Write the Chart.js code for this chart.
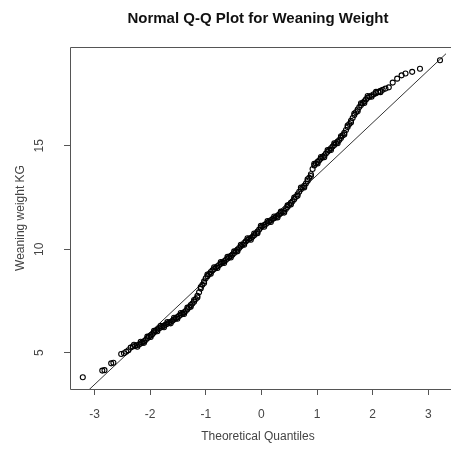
<!DOCTYPE html>
<html>
<head>
<meta charset="utf-8">
<script src="https://cdn.jsdelivr.net/npm/chart.js@4"></script>
<style>
  html, body { margin: 0; padding: 0; background: #fff; }
  #wrap { width: 451px; height: 451px; }
</style>
</head>
<body>
<div id="wrap"><canvas id="qq"></canvas></div>
<script>
// points (theoretical quantile, weaning weight kg)
const theoQuantiles = [
  -3.21, -2.86, -2.82, -2.70, -2.66, -2.52, -2.47, -2.43, -2.39, -2.35,
  -2.31, -2.27, -2.24, -2.20, -2.17, -2.14, -2.11, -2.08, -2.05, -2.02,
  -1.99, -1.96, -1.93, -1.90, -1.87, -1.84, -1.81, -1.78, -1.75, -1.72,
  -1.69, -1.66, -1.63, -1.60, -1.57, -1.54, -1.51, -1.48, -1.45, -1.42,
  -1.39, -1.36, -1.33, -1.30, -1.27, -1.24, -1.21, -1.18, -1.15, -1.12,
  -1.09, -1.06, -1.03, -1.00, -0.97, -0.94, -0.91, -0.88, -0.85, -0.82,
  -0.79, -0.76, -0.73, -0.70, -0.67, -0.64, -0.61, -0.58, -0.55, -0.52,
  -0.49, -0.46, -0.43, -0.40, -0.37, -0.34, -0.31, -0.28, -0.25, -0.22,
  -0.19, -0.16, -0.13, -0.10, -0.07, -0.04, -0.01, 0.02, 0.05, 0.08,
  0.11, 0.14, 0.17, 0.20, 0.23, 0.26, 0.29, 0.32, 0.35, 0.38,
  0.41, 0.44, 0.47, 0.50, 0.53, 0.56, 0.59, 0.62, 0.65, 0.68,
  0.71, 0.74, 0.77, 0.80, 0.83, 0.86, 0.89, 0.92, 0.95, 0.98,
  1.01, 1.04, 1.07, 1.10, 1.13, 1.16, 1.19, 1.22, 1.25, 1.28,
  1.31, 1.34, 1.37, 1.40, 1.43, 1.46, 1.49, 1.52, 1.55, 1.58,
  1.61, 1.64, 1.67, 1.70, 1.73, 1.76, 1.79, 1.82, 1.85, 1.88,
  1.91, 1.94, 1.98, 2.02, 2.06, 2.10, 2.14, 2.18, 2.23, 2.29,
  2.36, 2.44, 2.52, 2.59, 2.71, 2.85, 3.21
];
const weaningWeight = [
  3.82, 4.14, 4.16, 4.49, 4.52, 4.94, 4.98, 5.05, 5.12, 5.25,
  5.30, 5.33, 5.36, 5.40, 5.45, 5.50, 5.56, 5.62, 5.70, 5.78,
  5.84, 5.90, 5.98, 6.05, 6.12, 6.18, 6.22, 6.27, 6.31, 6.36,
  6.40, 6.45, 6.50, 6.55, 6.61, 6.66, 6.72, 6.78, 6.84, 6.89,
  6.95, 7.02, 7.10, 7.20, 7.30, 7.38, 7.47, 7.60, 7.75, 7.92,
  8.10, 8.28, 8.45, 8.60, 8.70, 8.80, 8.90, 8.98, 9.05, 9.12,
  9.18, 9.24, 9.30, 9.36, 9.42, 9.48, 9.55, 9.62, 9.68, 9.74,
  9.82, 9.90, 9.98, 10.06, 10.14, 10.22, 10.30, 10.38, 10.45, 10.50,
  10.54, 10.60, 10.68, 10.76, 10.85, 10.95, 11.05, 11.12, 11.17, 11.22,
  11.28, 11.34, 11.40, 11.46, 11.50, 11.56, 11.62, 11.68, 11.74, 11.80,
  11.85, 11.94, 12.04, 12.15, 12.24, 12.32, 12.42, 12.54, 12.66, 12.78,
  12.90, 12.98, 13.06, 13.18, 13.30, 13.45, 13.62, 13.88, 14.05, 14.14,
  14.22, 14.30, 14.38, 14.45, 14.53, 14.62, 14.71, 14.79, 14.88, 14.96,
  15.04, 15.12, 15.20, 15.28, 15.38, 15.50, 15.62, 15.76, 15.90, 16.05,
  16.20, 16.34, 16.48, 16.62, 16.75, 16.87, 16.97, 17.06, 17.15, 17.24,
  17.32, 17.37, 17.43, 17.49, 17.54, 17.60, 17.65, 17.70, 17.76, 17.82,
  18.05, 18.24, 18.40, 18.49, 18.57, 18.72, 19.13
];

// extra points read from the upper / lower edges of the dense band
const bandQuantiles = [
  -2.29, -2.23, -2.17, -2.11, -2.05, -1.99, -1.93, -1.87, -1.81, -1.75,
  -1.69, -1.63, -1.57, -1.51, -1.45, -1.39, -1.33, -1.27, -1.21, -1.15,
  -1.09, -1.03, -0.97, -0.91, -0.85, -0.79, -0.73, -0.67, -0.61, -0.55,
  -0.49, -0.43, -0.37, -0.31, -0.25, -0.19, -0.13, -0.07, -0.01, 0.05,
  0.11, 0.17, 0.23, 0.29, 0.35, 0.41, 0.47, 0.53, 0.59, 0.65,
  0.71, 0.77, 0.83, 0.89, 0.95, 1.01, 1.07, 1.13, 1.19, 1.25,
  1.31, 1.37, 1.43, 1.49, 1.55, 1.61, 1.67, 1.73, 1.79, 1.85,
  1.91, 1.98, 2.06, 2.14
];
const bandWeights = [
  5.39, 5.29, 5.53, 5.48, 5.78, 5.76, 6.06, 6.04, 6.30, 6.23,
  6.48, 6.42, 6.69, 6.64, 6.92, 6.87, 7.18, 7.22, 7.55, 7.67,
  8.18, 8.37, 8.78, 8.82, 9.13, 9.10, 9.38, 9.34, 9.63, 9.60,
  9.90, 9.90, 10.22, 10.22, 10.53, 10.46, 10.76, 10.77, 11.13, 11.09,
  11.36, 11.32, 11.58, 11.54, 11.82, 11.77, 12.12, 12.16, 12.50, 12.58,
  12.98, 12.98, 13.38, 13.54, 14.13, 14.14, 14.46, 14.45, 14.79, 14.80,
  15.12, 15.12, 15.46, 15.54, 15.98, 16.12, 16.56, 16.67, 17.05, 17.07,
  17.40, 17.37, 17.60, 17.59
];

// qq reference line, end points
const lineX = [-3.44, 3.32];
const lineY = [2.35, 19.45];

const xTicks = [-3, -2, -1, 0, 1, 2, 3];
const yTicks = [5, 10, 15];

const axisGrey = '#555';
const textGrey = '#444';
const font = 'Liberation Sans, Arial, sans-serif';

const points = theoQuantiles.map((x, i) => ({ x: x, y: weaningWeight[i] }))
  .concat(bandQuantiles.map((x, i) => ({ x: x, y: bandWeights[i] })));
const refLine = lineX.map((x, i) => ({ x: x, y: lineY[i] }));

// R style box (no right side, it is cut off) and rotated y tick labels
const rFrame = {
  id: 'rFrame',
  afterDraw(chart) {
    const ctx = chart.ctx;
    const a = chart.chartArea;
    ctx.save();
    ctx.strokeStyle = axisGrey;
    ctx.lineWidth = 1;
    ctx.beginPath();
    ctx.moveTo(chart.width, a.top + 0.5);
    ctx.lineTo(a.left + 0.5, a.top + 0.5);
    ctx.lineTo(a.left + 0.5, a.bottom + 0.5);
    ctx.lineTo(chart.width, a.bottom + 0.5);
    ctx.stroke();

    const ys = chart.scales.y;
    ctx.fillStyle = textGrey;
    ctx.font = '12px ' + font;
    ctx.textAlign = 'center';
    ctx.textBaseline = 'middle';
    yTicks.forEach(v => {
      const py = ys.getPixelForValue(v);
      ctx.save();
      ctx.translate(40, py);
      ctx.rotate(-Math.PI / 2);
      ctx.fillText(String(v), 0, 0);
      ctx.restore();
    });
    ctx.restore();
  }
};

new Chart(document.getElementById('qq'), {
  type: 'scatter',
  data: {
    datasets: [{
      label: 'Weaning weight',
      data: points,
      pointStyle: 'circle',
      pointRadius: 2.5,
      pointBorderWidth: 1.1,
      borderColor: '#000',
      backgroundColor: 'rgba(0,0,0,0)'
    }, {
      type: 'line',
      label: 'qqline',
      data: refLine,
      borderColor: '#333',
      borderWidth: 1,
      pointRadius: 0,
      fill: false
    }]
  },
  options: {
    responsive: true,
    maintainAspectRatio: false,
    animation: false,
    devicePixelRatio: 1,
    layout: { padding: 0 },
    plugins: {
      legend: { display: false },
      tooltip: { enabled: false },
      title: {
        display: true,
        fullSize: false,
        text: 'Normal Q-Q Plot for Weaning Weight',
        color: '#111',
        font: { family: font, size: 15, weight: 'bold' },
        padding: { top: 10, bottom: 19 }
      }
    },
    scales: {
      x: {
        type: 'linear',
        min: -3.44,
        max: 3.316,
        afterBuildTicks: s => { s.ticks = xTicks.map(v => ({ value: v })); },
        afterFit: s => { s.height = 62; },
        border: { display: false },
        grid: { drawOnChartArea: false, drawTicks: true, tickLength: 6, color: axisGrey },
        ticks: { color: textGrey, font: { family: font, size: 12 }, padding: 12, maxRotation: 0 },
        title: {
          display: true,
          text: 'Theoretical Quantiles',
          color: textGrey,
          font: { family: font, size: 12 },
          padding: { top: 0, bottom: 7 }
        }
      },
      y: {
        type: 'linear',
        min: 3.25,
        max: 19.77,
        afterBuildTicks: s => { s.ticks = yTicks.map(v => ({ value: v })); },
        afterFit: s => { s.width = 70; },
        border: { display: false },
        grid: { drawOnChartArea: false, drawTicks: true, tickLength: 6, color: axisGrey },
        ticks: { display: false },
        title: {
          display: true,
          text: 'Weaning weight KG',
          color: textGrey,
          font: { family: font, size: 12 },
          padding: { top: 13, bottom: 0 }
        }
      }
    }
  },
  plugins: [rFrame]
});
</script>
</body>
</html>
